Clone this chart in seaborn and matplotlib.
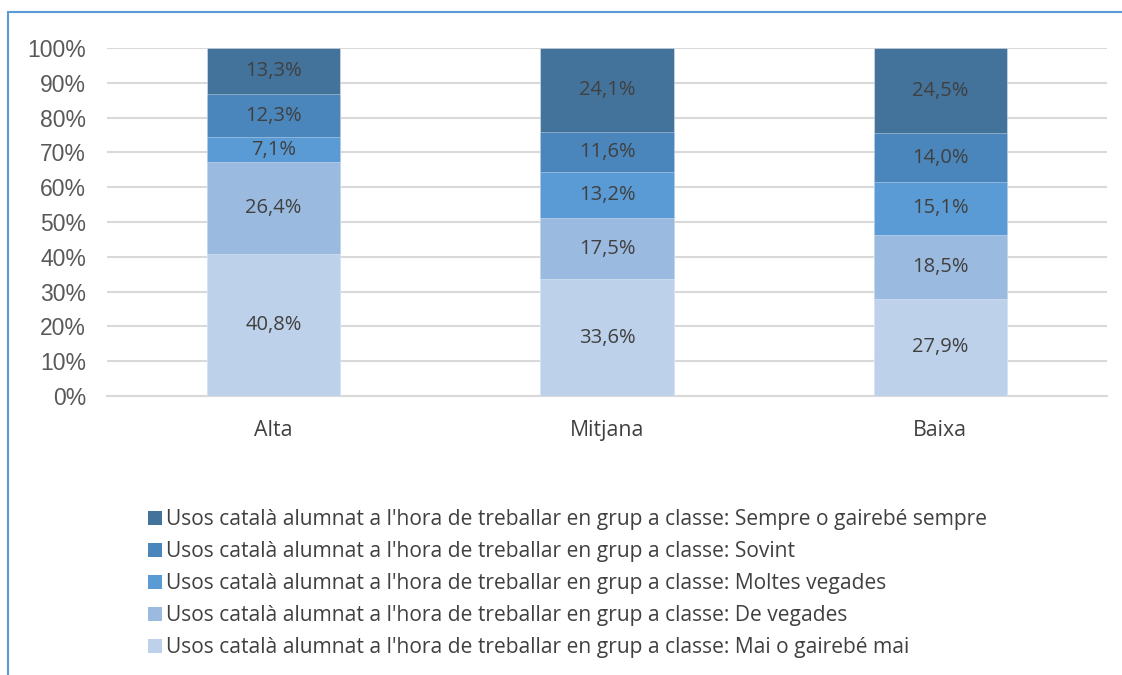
import numpy as np
import pandas as pd
import matplotlib
matplotlib.use("Agg")
import matplotlib.pyplot as plt
from matplotlib.lines import Line2D
from matplotlib.patches import Patch
from matplotlib.ticker import PercentFormatter
import seaborn as sns

categories = ["Alta", "Mitjana", "Baixa"]
series_names = [
    "Usos català alumnat a l'hora de treballar en grup a classe: Mai o gairebé mai",
    "Usos català alumnat a l'hora de treballar en grup a classe: De vegades",
    "Usos català alumnat a l'hora de treballar en grup a classe: Moltes vegades",
    "Usos català alumnat a l'hora de treballar en grup a classe: Sovint",
    "Usos català alumnat a l'hora de treballar en grup a classe: Sempre o gairebé sempre",
]
mai = [40.8, 33.6, 27.9]
de_vegades = [26.4, 17.5, 18.5]
moltes_vegades = [7.1, 13.2, 15.1]
sovint = [12.3, 11.6, 14.0]
sempre = [13.3, 24.1, 24.5]
colors = ["#BDD1EA", "#9BBAE0", "#5B9BD5", "#4A86BC", "#43729B"]

series_vals = [mai, de_vegades, moltes_vegades, sovint, sempre]
vals = np.array(series_vals, dtype=float)
shares = vals / vals.sum(axis=0)
cum = np.cumsum(shares, axis=0)

sns.set_theme(style="white")
plt.rcParams['font.family'] = ['Open Sans', 'DejaVu Sans']

fig = plt.figure(figsize=(11.22, 6.75), dpi=100)
ax = fig.add_axes([107/1122, 1-396/675, 1000/1122, 348/675])

# draw from top series down so lower segments overlay
for i in range(len(series_vals)-1, -1, -1):
    df = pd.DataFrame({"cat": categories, "val": cum[i]})
    sns.barplot(data=df, x="cat", y="val", color=colors[i], width=0.4,
                edgecolor="#FFFFFF80", linewidth=0.5, ax=ax, zorder=3, saturation=1)

# labels
for i in range(len(series_vals)):
    for j in range(len(categories)):
        center = cum[i][j] - shares[i][j] / 2
        ax.text(j, center, f"{series_vals[i][j]:.1f}%".replace(".", ","),
                ha="center", va="center", fontsize=14.5, color="#404040", zorder=5)

ax.set_ylim(0, 1)
ax.set_xlim(-0.5, 2.5)
ax.set_yticks(np.arange(0, 1.01, 0.1))
ax.yaxis.set_major_formatter(PercentFormatter(1.0, decimals=0))
ax.grid(axis="y", color="#D9D9D9", linewidth=1.5, zorder=0)
ax.set_axisbelow(True)
for s in ["top", "right", "left"]:
    ax.spines[s].set_visible(False)
ax.spines["bottom"].set_color("#D9D9D9")
ax.spines["bottom"].set_linewidth(1.5)
ax.set_xlabel("")
ax.set_ylabel("")
ax.tick_params(axis="y", length=0, pad=15, labelsize=16.5, labelcolor="#595959")
ax.tick_params(axis="x", length=0, pad=17, labelsize=15.3, labelcolor="#404040")
for lab in ax.get_yticklabels():
    lab.set_family(["Liberation Sans", "DejaVu Sans"])

handles = [Patch(facecolor=colors[i], edgecolor="none") for i in range(4, -1, -1)]
labels = [series_names[i] for i in range(4, -1, -1)]
fig.legend(handles, labels, loc="upper left", bbox_to_anchor=(148/1122, 1-509/675),
           frameon=False, fontsize=15.1, labelcolor="#404040",
           handlelength=0.66, handleheight=0.66, handletextpad=0.2, labelspacing=0.53,
           borderaxespad=0, borderpad=0)

# chart border
fig.add_artist(Line2D([8/1122, 1], [1-12/675, 1-12/675], color="#5B9BD5", lw=1.5))
fig.add_artist(Line2D([8/1122, 8/1122], [0, 1-12/675], color="#5B9BD5", lw=1.5))

fig.savefig("out.png", dpi=100)
